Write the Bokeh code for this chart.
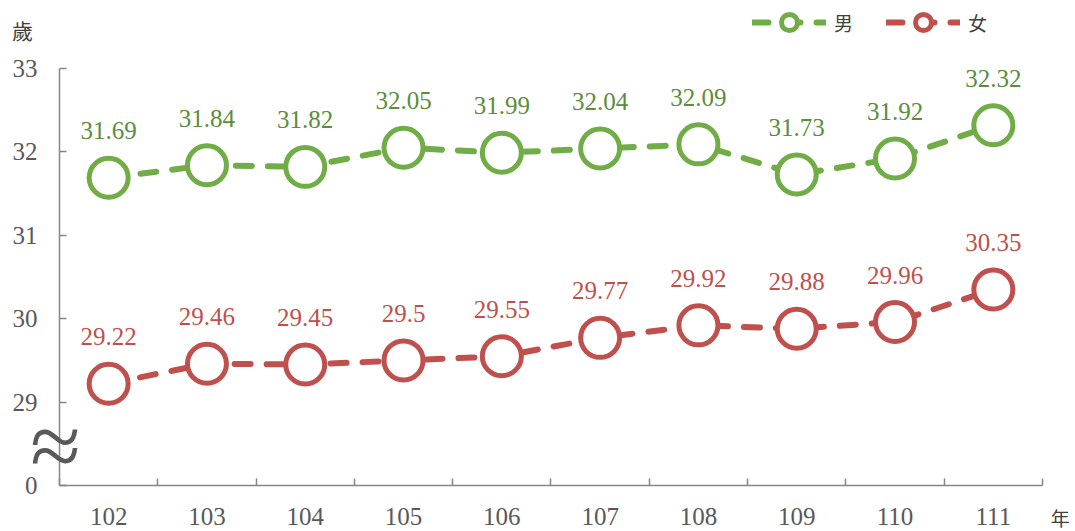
from bokeh.plotting import figure
from bokeh.models import Range1d, FixedTicker, LinearAxis, Label, Legend, LegendItem
from bokeh.core.properties import value
from bokeh.embed import file_html
from bokeh.resources import INLINE

years = ["102", "103", "104", "105", "106", "107", "108", "109", "110", "111"]
male = [31.69, 31.84, 31.82, 32.05, 31.99, 32.04, 32.09, 31.73, 31.92, 32.32]
female = [29.22, 29.46, 29.45, 29.5, 29.55, 29.77, 29.92, 29.88, 29.96, 30.35]
male_labels = ["31.69", "31.84", "31.82", "32.05", "31.99", "32.04", "32.09", "31.73", "31.92", "32.32"]
female_labels = ["29.22", "29.46", "29.45", "29.5", "29.55", "29.77", "29.92", "29.88", "29.96", "30.35"]
y_ticks = [28, 29, 30, 31, 32, 33]
y_tick_labels = ["0", "29", "30", "31", "32", "33"]

GREEN = "#70AD47"
GREEN_TXT = "#5A8E3A"
RED = "#C0504D"
GRAY = "#595959"
AXIS = "#868686"
SERIF = "Liberation Serif"
CJK = "Noto Sans CJK TC"

xs = [i + 0.5 for i in range(len(years))]

# frame covers the whole canvas; axes are drawn at fixed locations
p = figure(width=1075, height=531, output_backend="svg", toolbar_location=None,
           x_range=Range1d(-0.6002, 10.336), y_range=Range1d(27.4484, 33.815),
           x_axis_type=None, y_axis_type=None,
           min_border_left=0, min_border_right=0, min_border_top=0, min_border_bottom=0)
p.outline_line_color = None
p.background_fill_color = "white"

yax = LinearAxis(ticker=FixedTicker(ticks=y_ticks), bounds=(28, 33), fixed_location=0)
yax.major_label_overrides = {t: l for t, l in zip(y_ticks, y_tick_labels)}
yax.axis_line_color = AXIS
yax.axis_line_width = 1.5
yax.major_tick_line_color = AXIS
yax.major_tick_line_width = 1.5
yax.major_tick_in = 7
yax.major_tick_out = 0
yax.minor_tick_line_color = None
yax.major_label_standoff = 22
yax.major_label_text_font = SERIF
yax.major_label_text_font_size = "25px"
yax.major_label_text_color = GRAY
p.add_layout(yax, "left")

xax = LinearAxis(ticker=FixedTicker(ticks=xs, minor_ticks=list(range(len(years) + 1))),
                 bounds=(0, len(years)), fixed_location=28)
xax.major_label_overrides = {x: y for x, y in zip(xs, years)}
xax.axis_line_color = AXIS
xax.axis_line_width = 1.5
xax.major_tick_line_color = None
xax.minor_tick_line_color = AXIS
xax.minor_tick_line_width = 1.5
xax.minor_tick_in = 7
xax.minor_tick_out = 0
xax.major_tick_in = 0
xax.major_tick_out = 0
xax.major_label_standoff = 23
xax.major_label_text_font = SERIF
xax.major_label_text_font_size = "25px"
xax.major_label_text_color = GRAY
p.add_layout(xax, "below")

items = []
for name, vals, labels, col, tcol in [("男", male, male_labels, GREEN, GREEN_TXT),
                                      ("女", female, female_labels, RED, RED)]:
    ln = p.line(xs, vals, line_color=col, line_width=6, line_dash="16 16", line_cap="round")
    sc = p.scatter(xs, vals, marker="circle", size=39, fill_color="white",
                   line_color=col, line_width=5)
    p.text(xs, vals, text=labels, text_align="center", text_baseline="middle",
           y_offset=-47, text_font=value(SERIF), text_font_size="25px", text_color=tcol)
    items.append(LegendItem(label=name, renderers=[ln, sc]))

legend = Legend(items=items, orientation="horizontal", location=(752, 489),
                glyph_width=74, glyph_height=40, label_height=40,
                label_text_font=CJK, label_text_font_size="19px", label_text_color="#404040",
                spacing=32, label_standoff=8, padding=0, margin=0,
                background_fill_alpha=0, border_line_color=None)
p.add_layout(legend)

p.add_layout(Label(x=-0.376, y=33.456, text="歲", text_font=CJK, text_font_size="21px",
                   text_color="#404040", text_align="center", text_baseline="middle"))
p.add_layout(Label(x=10.18, y=27.62, text="年", text_font=CJK, text_font_size="19px",
                   text_color="#404040", text_align="center", text_baseline="middle"))
p.add_layout(Label(x=-0.04, y=28.47, text="≈", text_font=SERIF, text_font_size="92px",
                   text_color=GRAY, text_align="center", text_baseline="middle"))

open("out.html", "w").write(file_html(p, INLINE))
